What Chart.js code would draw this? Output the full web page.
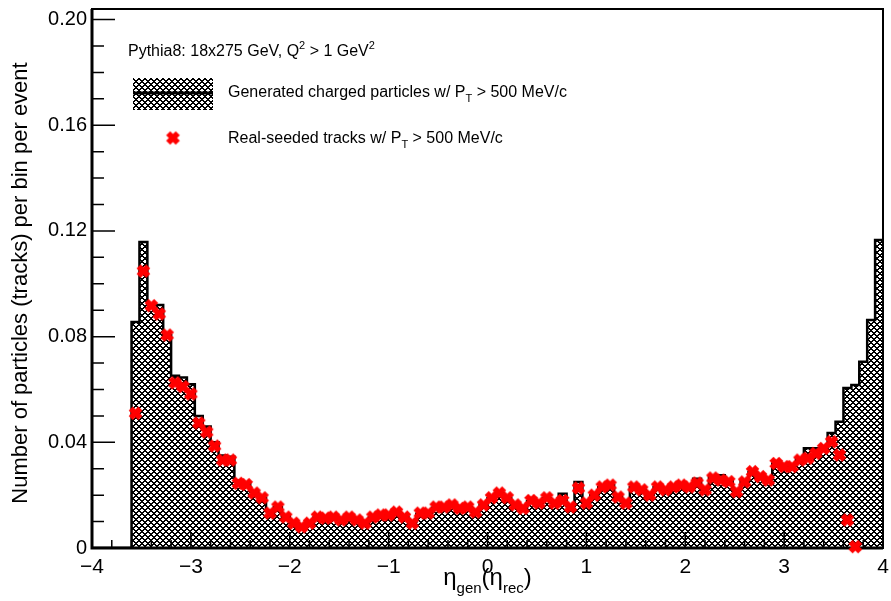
<!DOCTYPE html>
<html>
<head>
<meta charset="utf-8">
<script src="https://cdn.jsdelivr.net/npm/chart.js@4.4.0/dist/chart.umd.min.js"></script>
<style>
  html, body { margin: 0; padding: 0; background: #fff; }
</style>
</head>
<body>
<canvas id="etaChart" width="891" height="601"></canvas>
<script>
// eta binning: 100 bins of width 0.08 between -4 and 4
const etaMin = -4;
const etaMax = 4;
const binWidth = 0.08;

// generated charged particles per bin per event
const genCounts = [
  0, 0, 0, 0, 0, 0.0855, 0.1158, 0.0922, 0.0920, 0.0806,
  0.0652, 0.0645, 0.0620, 0.0500, 0.0460, 0.0400, 0.0350, 0.0345, 0.0255, 0.0245,
  0.0212, 0.0190, 0.0140, 0.0155, 0.0120, 0.0095, 0.0082, 0.0095, 0.0115, 0.0113,
  0.0118, 0.0108, 0.0115, 0.0105, 0.0095, 0.0115, 0.0125, 0.0125, 0.0135, 0.0118,
  0.0098, 0.0130, 0.0132, 0.0152, 0.0155, 0.0160, 0.0150, 0.0155, 0.0138, 0.0165,
  0.0188, 0.0208, 0.0190, 0.0165, 0.0152, 0.0178, 0.0170, 0.0188, 0.0172, 0.0205,
  0.0158, 0.0250, 0.0172, 0.0200, 0.0230, 0.0238, 0.0195, 0.0172, 0.0230, 0.0220,
  0.0202, 0.0230, 0.0222, 0.0232, 0.0238, 0.0235, 0.0262, 0.0225, 0.0270, 0.0275,
  0.0255, 0.0218, 0.0255, 0.0288, 0.0272, 0.0260, 0.0320, 0.0310, 0.0312, 0.0340,
  0.0378, 0.0378, 0.0378, 0.0435, 0.0478, 0.0606, 0.0617, 0.0705, 0.0863, 0.1166
];

// real-seeded tracks per bin per event (null = no entry drawn)
const recoCounts = [
  null, null, null, null, null, 0.0510, 0.1048, 0.0917, 0.0886, 0.0806,
  0.0625, 0.0611, 0.0583, 0.0473, 0.0439, 0.0386, 0.0333, 0.0333, 0.0245, 0.0240,
  0.0208, 0.0190, 0.0132, 0.0155, 0.0117, 0.0094, 0.0080, 0.0094, 0.0117, 0.0113,
  0.0117, 0.0106, 0.0117, 0.0106, 0.0094, 0.0117, 0.0125, 0.0125, 0.0136, 0.0117,
  0.0094, 0.0132, 0.0132, 0.0155, 0.0155, 0.0163, 0.0150, 0.0155, 0.0136, 0.0163,
  0.0190, 0.0208, 0.0190, 0.0163, 0.0150, 0.0180, 0.0170, 0.0190, 0.0170, 0.0180,
  0.0155, 0.0227, 0.0170, 0.0200, 0.0231, 0.0238, 0.0193, 0.0170, 0.0231, 0.0220,
  0.0200, 0.0231, 0.0220, 0.0231, 0.0238, 0.0231, 0.0246, 0.0220, 0.0265, 0.0257,
  0.0251, 0.0213, 0.0250, 0.0289, 0.0270, 0.0257, 0.0320, 0.0308, 0.0308, 0.0333,
  0.0340, 0.0358, 0.0377, 0.0402, 0.0352, 0.0106, 0.0005, null, null, null
];

const xTicks = [-4, -3, -2, -1, 0, 1, 2, 3, 4];
const yTicks = [0, 0.04, 0.08, 0.12, 0.16, 0.20];

const FONT = '"Liberation Sans", Arial, Helvetica, sans-serif';

// histogram outline as step points at the bin low edges
const histPoints = genCounts.map((v, i) => ({ x: etaMin + i * binWidth, y: v }));
histPoints.push({ x: etaMax, y: genCounts[genCounts.length - 1] });

const recoPoints = [];
recoCounts.forEach((v, i) => {
  if (v !== null) recoPoints.push({ x: etaMin + (i + 0.5) * binWidth, y: v });
});

// cross-hatch fill, built pixel by pixel so it stays crisp
function makeHatch() {
  const n = 6;
  const c = document.createElement('canvas');
  c.width = n; c.height = n;
  const g = c.getContext('2d');
  g.fillStyle = '#fff';
  g.fillRect(0, 0, n, n);
  g.fillStyle = '#000';
  for (let y = 0; y < n; y++) {
    for (let x = 0; x < n; x++) {
      const d1 = ((x - y) % n + n) % n;
      const d2 = (x + y) % n;
      if (d1 < 2 || d2 < 2) g.fillRect(x, y, 1, 1);
    }
  }
  return g.createPattern(c, 'repeat');
}

// filled red "X" marker
function makeMarker() {
  const s = 17;
  const c = document.createElement('canvas');
  c.width = s; c.height = s;
  const g = c.getContext('2d');
  const L = 6.8, a = 2.9;
  const pts = [[a, L], [a, a], [L, a], [L, -a], [a, -a], [a, -L],
               [-a, -L], [-a, -a], [-L, -a], [-L, a], [-a, a], [-a, L]];
  g.translate(s / 2, s / 2);
  g.rotate(Math.PI / 4);
  g.fillStyle = '#ff0000';
  g.beginPath();
  pts.forEach((p, i) => i ? g.lineTo(p[0], p[1]) : g.moveTo(p[0], p[1]));
  g.closePath();
  g.fill();
  return c;
}

const hatch = makeHatch();
const marker = makeMarker();

// draws a run of text pieces with sub/superscripts, returns the width
function drawPieces(ctx, pieces, x, y, measureOnly) {
  let cx = x;
  pieces.forEach(p => {
    ctx.font = p.size + 'px ' + FONT;
    if (!measureOnly) ctx.fillText(p.t, cx, y + (p.dy || 0));
    cx += ctx.measureText(p.t).width;
  });
  return cx - x;
}

// keep tick labels from pushing the plot frame around
function noLabelPadding(s) {
  s.paddingTop = 0; s.paddingBottom = 0;
  s.paddingLeft = 0; s.paddingRight = 0;
}

const axesAndLabels = {
  id: 'axesAndLabels',
  afterDatasetDraw(chart, args) {
    if (args.index !== 1) return;
    const { ctx, chartArea: area, scales } = chart;
    const xs = scales.x, ys = scales.y;
    ctx.save();
    ctx.strokeStyle = '#000';
    ctx.lineWidth = 1.5;
    ctx.beginPath();
    // x ticks: majors every 1, minors every 0.2
    for (let i = 0; i <= 40; i++) {
      const v = etaMin + i * 0.2;
      const px = xs.getPixelForValue(v);
      const len = i % 5 === 0 ? 16 : 8;
      ctx.moveTo(px, area.bottom);
      ctx.lineTo(px, area.bottom - len);
    }
    // y ticks: majors every 0.04, minors every 0.01
    for (let i = 0; i <= 20; i++) {
      const v = i * 0.01;
      const py = ys.getPixelForValue(v);
      const len = i % 4 === 0 ? 23 : 12;
      ctx.moveTo(area.left, py);
      ctx.lineTo(area.left + len, py);
    }
    ctx.stroke();
    // frame
    ctx.lineWidth = 2;
    ctx.strokeRect(area.left, area.top, area.right - area.left, area.bottom - area.top);
    ctx.lineWidth = 3;
    ctx.beginPath();
    ctx.moveTo(area.left, area.top);
    ctx.lineTo(area.left, area.bottom);
    ctx.lineTo(area.right, area.bottom);
    ctx.stroke();
    ctx.restore();
  },
  afterDraw(chart) {
    const { ctx, chartArea: area } = chart;
    ctx.save();
    ctx.fillStyle = '#000';
    ctx.textBaseline = 'alphabetic';
    ctx.textAlign = 'left';

    // y axis title
    ctx.save();
    ctx.translate(21, 283);
    ctx.rotate(-Math.PI / 2);
    ctx.font = '22px ' + FONT;
    ctx.textAlign = 'center';
    ctx.textBaseline = 'middle';
    ctx.fillText('Number of particles (tracks) per bin per event', 0, 0);
    ctx.restore();

    // x axis title: eta_gen(eta_rec)
    const title = [
      { t: '\u03b7', size: 24 },
      { t: 'gen', size: 15, dy: 8 },
      { t: '(\u03b7', size: 24 },
      { t: 'rec', size: 15, dy: 8 },
      { t: ')', size: 24 }
    ];
    const tw = drawPieces(ctx, title, 0, 0, true);
    drawPieces(ctx, title, (area.left + area.right) / 2 - tw / 2, 585);

    // header
    drawPieces(ctx, [
      { t: 'Pythia8: 18x275 GeV, Q', size: 16 },
      { t: '2', size: 11, dy: -7 },
      { t: ' > 1 GeV', size: 16 },
      { t: '2', size: 11, dy: -7 }
    ], 128, 56);

    // legend: generated histogram swatch
    ctx.fillStyle = hatch;
    ctx.fillRect(133, 78, 80, 32);
    ctx.strokeStyle = '#000';
    ctx.lineWidth = 3;
    ctx.beginPath();
    ctx.moveTo(133, 93);
    ctx.lineTo(213, 93);
    ctx.stroke();
    ctx.fillStyle = '#000';
    drawPieces(ctx, [
      { t: 'Generated charged particles w/ P', size: 16 },
      { t: 'T', size: 11, dy: 5 },
      { t: ' > 500 MeV/c', size: 16 }
    ], 228, 97);

    // legend: reconstructed marker
    ctx.drawImage(marker, 173 - marker.width / 2, 138 - marker.height / 2);
    drawPieces(ctx, [
      { t: 'Real-seeded tracks w/ P', size: 16 },
      { t: 'T', size: 11, dy: 5 },
      { t: ' > 500 MeV/c', size: 16 }
    ], 228, 143);
    ctx.restore();
  }
};

new Chart(document.getElementById('etaChart'), {
  type: 'scatter',
  data: {
    datasets: [
      {
        type: 'scatter',
        label: 'Real-seeded tracks',
        data: recoPoints,
        pointStyle: marker,
        pointRadius: 7,
        clip: false,
        order: 0
      },
      {
        type: 'line',
        label: 'Generated charged particles',
        data: histPoints,
        stepped: 'before',
        borderColor: '#000',
        borderWidth: 2.5,
        backgroundColor: hatch,
        fill: 'origin',
        pointRadius: 0,
        order: 1
      }
    ]
  },
  options: {
    responsive: false,
    devicePixelRatio: 1,
    animation: false,
    layout: { padding: { top: 9, right: 6, left: 0, bottom: 0 } },
    plugins: { legend: { display: false }, tooltip: { enabled: false } },
    scales: {
      x: {
        type: 'linear',
        min: etaMin,
        max: etaMax,
        afterFit: s => { s.height = 53; noLabelPadding(s); },
        afterBuildTicks: s => { s.ticks = xTicks.map(v => ({ value: v })); },
        grid: { display: false, drawTicks: false },
        border: { display: false },
        ticks: {
          padding: 7,
          color: '#000',
          font: { family: FONT, size: 21 },
          maxRotation: 0,
          callback: v => (v < 0 ? '\u2212' + Math.abs(v) : String(v))
        }
      },
      y: {
        type: 'linear',
        min: 0,
        max: 0.204,
        afterFit: s => { s.width = 92; noLabelPadding(s); },
        afterBuildTicks: s => { s.ticks = yTicks.map(v => ({ value: v })); },
        grid: { display: false, drawTicks: false },
        border: { display: false },
        ticks: {
          padding: 5,
          color: '#000',
          font: { family: FONT, size: 20 },
          callback: v => (v === 0 ? '0' : v.toFixed(2))
        }
      }
    }
  },
  plugins: [axesAndLabels]
});
</script>
</body>
</html>
